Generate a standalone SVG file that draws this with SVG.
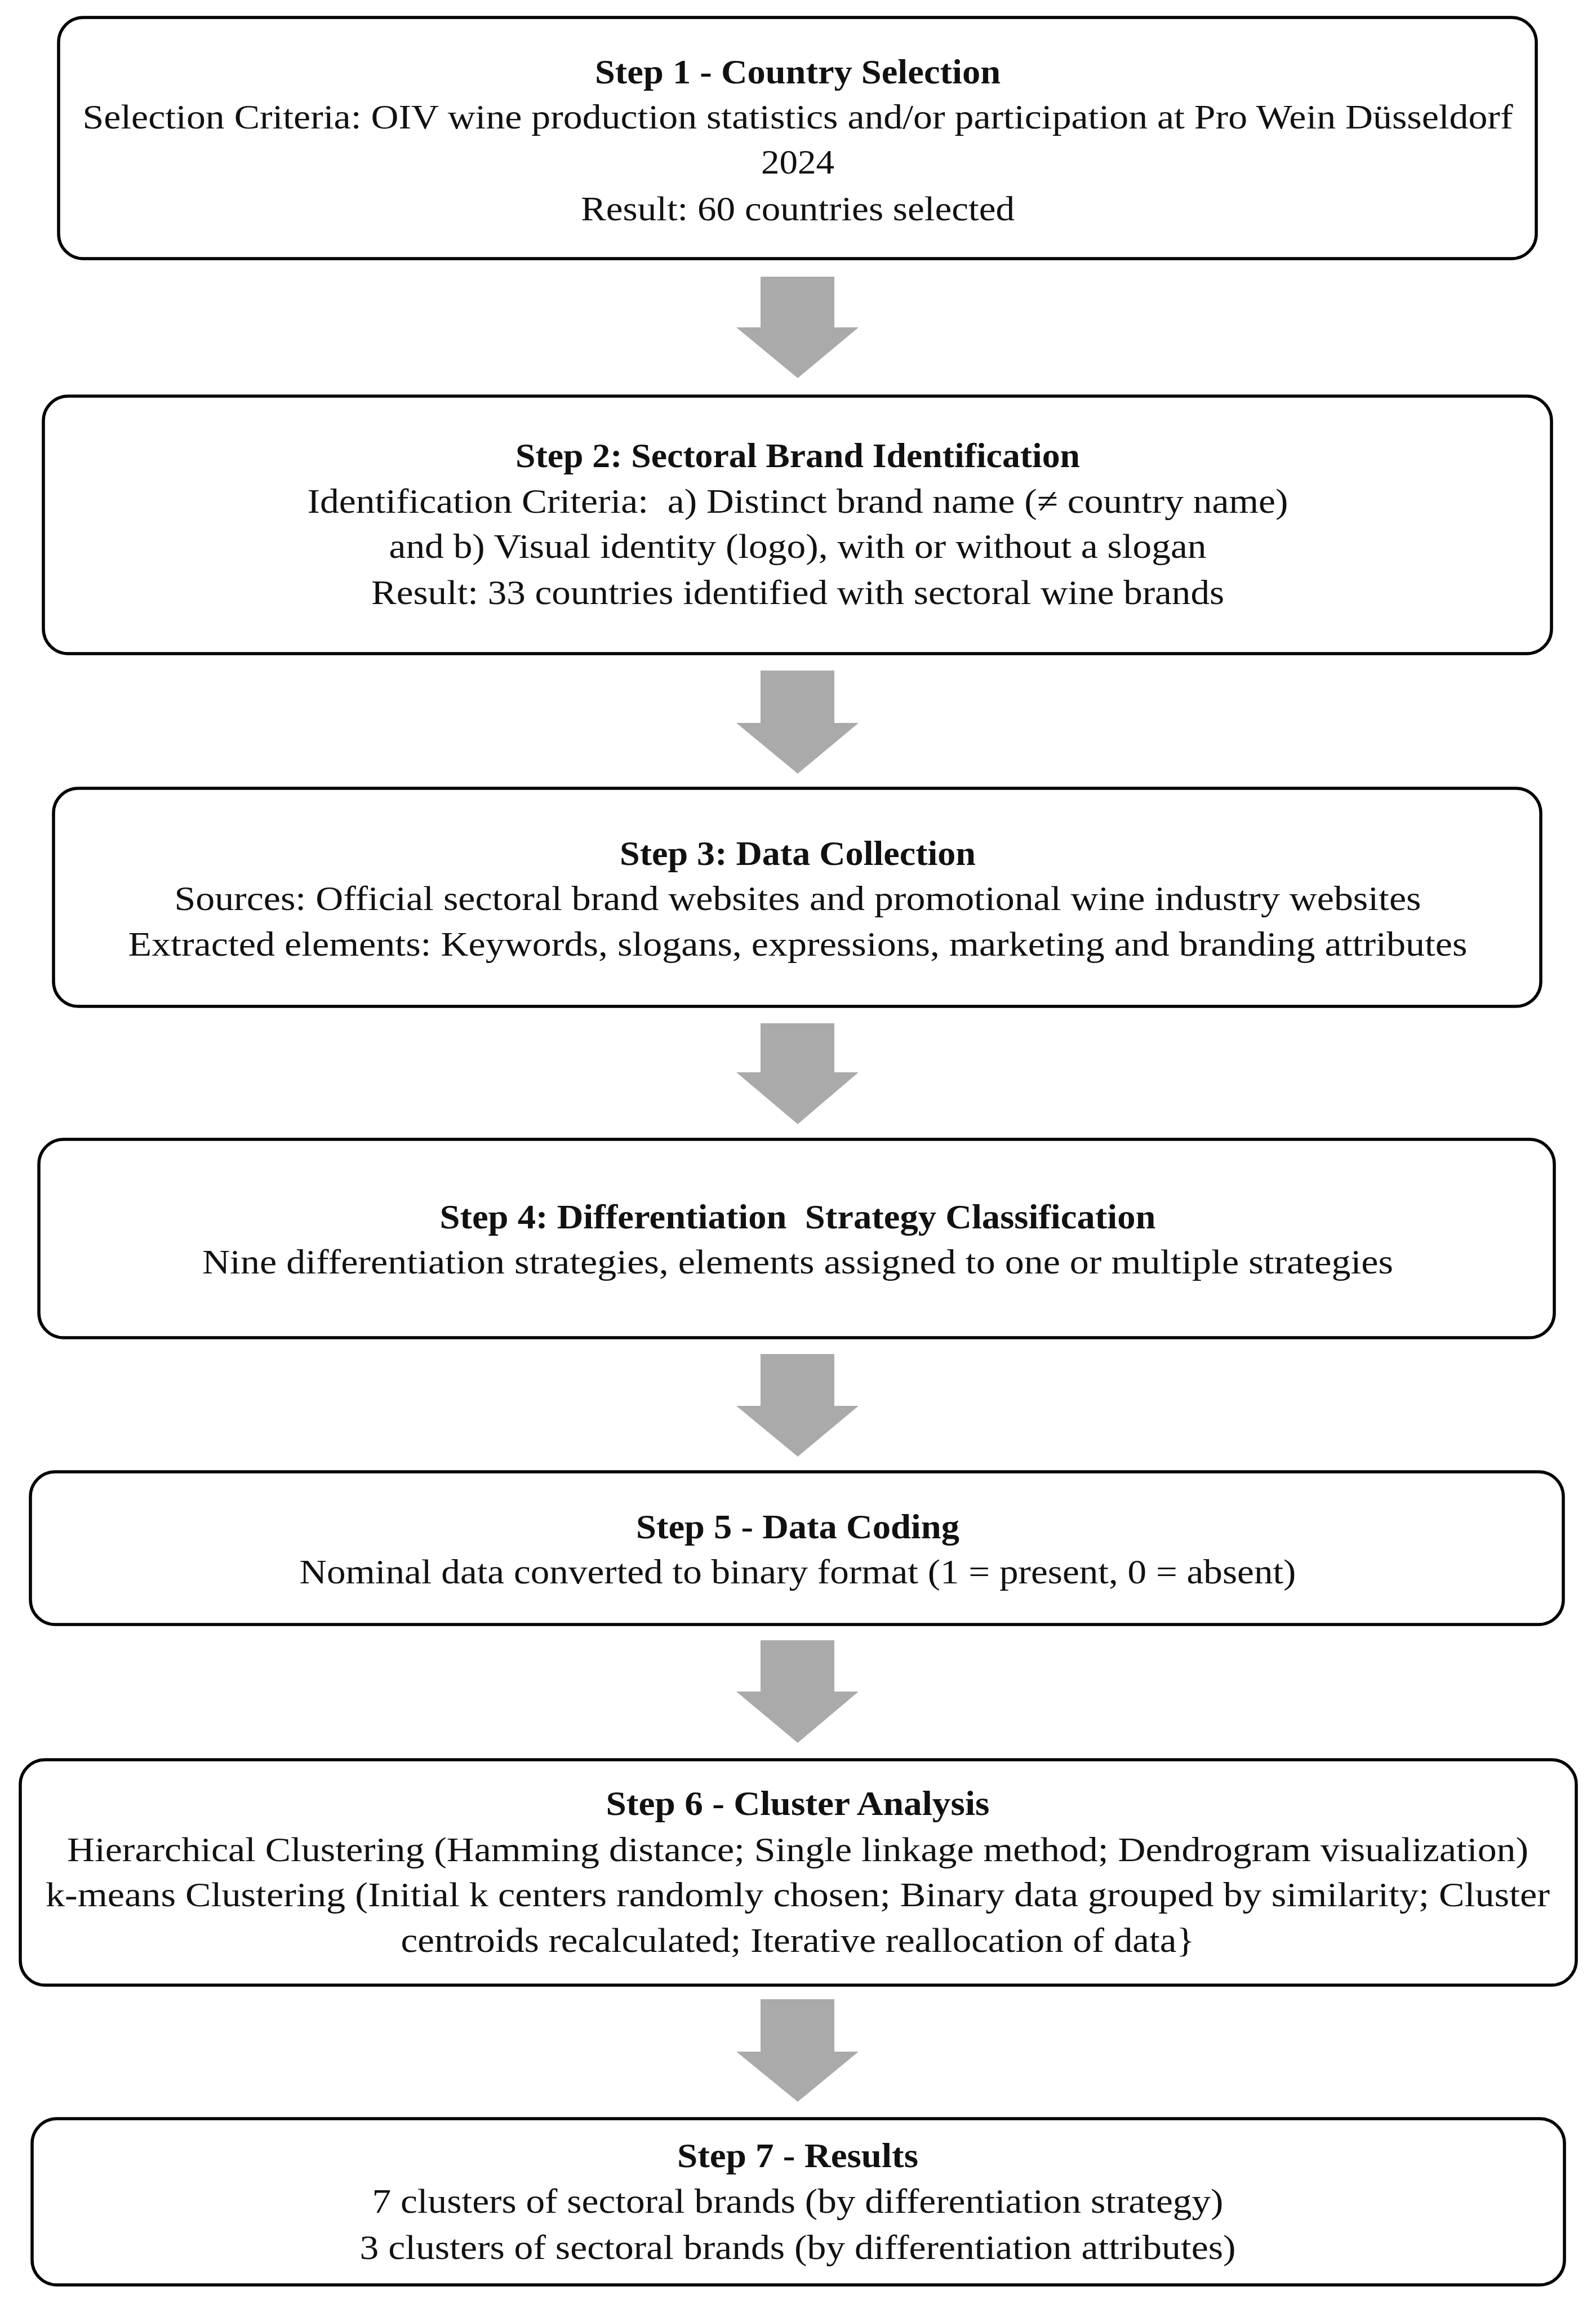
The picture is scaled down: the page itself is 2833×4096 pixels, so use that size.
<svg xmlns="http://www.w3.org/2000/svg" width="2833" height="4096" viewBox="0 0 2833 4096">
<style>
.box{fill:#ffffff;stroke:#000000;stroke-width:5.5}
.arr{fill:#aaaaaa}
text{font-family:"Liberation Serif","Times New Roman",serif;font-size:62px;fill:#111111;text-anchor:middle}
.t{font-weight:bold}
</style>
<rect x="0" y="0" width="2833" height="4096" fill="#ffffff"/>
<g id="connectors">
<polygon class="arr" points="1350,491 1481,491 1481,581 1524,581 1416,671 1307,581 1350,581"/>
<polygon class="arr" points="1350,1190 1481,1190 1481,1283 1524,1283 1416,1373 1307,1283 1350,1283"/>
<polygon class="arr" points="1350,1816 1481,1816 1481,1903 1524,1903 1416,1995 1307,1903 1350,1903"/>
<polygon class="arr" points="1350,2403 1481,2403 1481,2495 1524,2495 1416,2585 1307,2495 1350,2495"/>
<polygon class="arr" points="1350,2911 1481,2911 1481,3002 1524,3002 1416,3093 1307,3002 1350,3002"/>
<polygon class="arr" points="1350,3548 1481,3548 1481,3641 1524,3641 1416,3730 1307,3641 1350,3641"/>
</g>
<g id="step1">
<rect class="box" x="104" y="31" width="2623" height="428" rx="44"/>
<text class="t" x="1416" y="148" textLength="720" lengthAdjust="spacingAndGlyphs">Step 1 - Country Selection</text>
<text x="1416" y="228" textLength="2539" lengthAdjust="spacingAndGlyphs">Selection Criteria: OIV wine production statistics and/or participation at Pro Wein Düsseldorf</text>
<text x="1416" y="308" textLength="130" lengthAdjust="spacingAndGlyphs">2024</text>
<text x="1416" y="391" textLength="770" lengthAdjust="spacingAndGlyphs">Result: 60 countries selected</text>
</g>
<g id="step2">
<rect class="box" x="77" y="703" width="2677" height="457" rx="44"/>
<text class="t" x="1416" y="829" textLength="1002" lengthAdjust="spacingAndGlyphs">Step 2: Sectoral Brand Identification</text>
<text x="1416" y="910" xml:space="preserve" style="white-space:pre" textLength="1741" lengthAdjust="spacingAndGlyphs">Identification Criteria:  a) Distinct brand name (≠ country name)</text>
<text x="1416" y="990" textLength="1451" lengthAdjust="spacingAndGlyphs">and b) Visual identity (logo), with or without a slogan</text>
<text x="1416" y="1072" textLength="1514" lengthAdjust="spacingAndGlyphs">Result: 33 countries identified with sectoral wine brands</text>
</g>
<g id="step3">
<rect class="box" x="95" y="1399" width="2640" height="387" rx="44"/>
<text class="t" x="1416" y="1535" textLength="632" lengthAdjust="spacingAndGlyphs">Step 3: Data Collection</text>
<text x="1416" y="1615" textLength="2213" lengthAdjust="spacingAndGlyphs">Sources: Official sectoral brand websites and promotional wine industry websites</text>
<text x="1416" y="1696" textLength="2377" lengthAdjust="spacingAndGlyphs">Extracted elements: Keywords, slogans, expressions, marketing and branding attributes</text>
</g>
<g id="step4">
<rect class="box" x="69" y="2022" width="2690" height="352" rx="44"/>
<text class="t" x="1416" y="2180" xml:space="preserve" style="white-space:pre" textLength="1271" lengthAdjust="spacingAndGlyphs">Step 4: Differentiation  Strategy Classification</text>
<text x="1416" y="2260" textLength="2114" lengthAdjust="spacingAndGlyphs">Nine differentiation strategies, elements assigned to one or multiple strategies</text>
</g>
<g id="step5">
<rect class="box" x="54" y="2612" width="2721" height="271" rx="44"/>
<text class="t" x="1416" y="2730" textLength="574" lengthAdjust="spacingAndGlyphs">Step 5 - Data Coding</text>
<text x="1416" y="2810" textLength="1769" lengthAdjust="spacingAndGlyphs">Nominal data converted to binary format (1 = present, 0 = absent)</text>
</g>
<g id="step6">
<rect class="box" x="36" y="3123" width="2762" height="400" rx="44"/>
<text class="t" x="1416" y="3221" textLength="681" lengthAdjust="spacingAndGlyphs">Step 6 - Cluster Analysis</text>
<text x="1416" y="3303" textLength="2594" lengthAdjust="spacingAndGlyphs">Hierarchical Clustering (Hamming distance; Single linkage method; Dendrogram visualization)</text>
<text x="1416" y="3383" textLength="2670" lengthAdjust="spacingAndGlyphs">k-means Clustering (Initial k centers randomly chosen; Binary data grouped by similarity; Cluster</text>
<text x="1416" y="3464" textLength="1409" lengthAdjust="spacingAndGlyphs">centroids recalculated; Iterative reallocation of data}</text>
</g>
<g id="step7">
<rect class="box" x="57" y="3760" width="2720" height="295" rx="44"/>
<text class="t" x="1416" y="3846" textLength="428" lengthAdjust="spacingAndGlyphs">Step 7 - Results</text>
<text x="1416" y="3927" textLength="1511" lengthAdjust="spacingAndGlyphs">7 clusters of sectoral brands (by differentiation strategy)</text>
<text x="1416" y="4009" textLength="1555" lengthAdjust="spacingAndGlyphs">3 clusters of sectoral brands (by differentiation attributes)</text>
</g>
</svg>
